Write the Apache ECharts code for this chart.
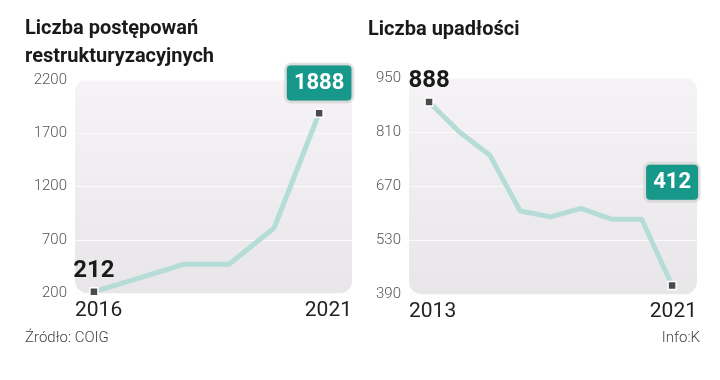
<!DOCTYPE html>
<html>
<head>
<meta charset="utf-8">
<script src="https://cdn.jsdelivr.net/npm/echarts@6/dist/echarts.min.js"></script>
<style>html,body{margin:0;padding:0;background:#fff}#c{width:720px;height:380px}</style>
</head>
<body>
<div id="c"></div>
<script>
// ---- data ----
const leftTitle = 'Liczba postępowań\nrestrukturyzacyjnych';
const leftYears = [2016, 2017, 2018, 2019, 2020, 2021];
const leftValues = [212, 340, 470, 470, 810, 1888];
const leftYTicks = [200, 700, 1200, 1700, 2200];

const rightTitle = 'Liczba upadłości';
const rightYears = [2013, 2014, 2015, 2016, 2017, 2018, 2019, 2020, 2021];
const rightValues = [888, 810, 750, 605, 590, 612, 584, 584, 412];
const rightYTicks = [390, 530, 670, 810, 950];

const sourceText = 'Źródło: COIG';
const infoText = 'Info:K';

// ---- layout / style ----
const FONT = 'Roboto, "Noto Sans", sans-serif';
const LINE_COLOR = '#b5dcd7';
const BOX_COLOR = '#16998b';
const W = 720, H = 380;
const gL = {left: 75, right: 368, top: 80, bottom: 87};
const gR = {left: 409, right: 23, top: 78, bottom: 86};
const leftXExt = [2015.58, 2021.73];
const rightXExt = [2012.34, 2021.82];

function xAxisFor(idx, ext, years) {
  return {
    type: 'value', gridIndex: idx, min: ext[0], max: ext[1], interval: ext[1] - ext[0],
    axisLine: {show: false}, axisTick: {show: false}, splitLine: {show: false},
    axisLabel: {
      showMinLabel: true, showMaxLabel: true, alignMinLabel: 'left', alignMaxLabel: 'right',
      margin: 7, fontFamily: FONT, fontSize: 21, color: '#222',
      formatter: v => (Math.abs(v - ext[0]) < 0.01 ? String(years[0]) : String(years[years.length - 1]))
    }
  };
}
function yAxisFor(idx, ticks) {
  return {
    type: 'value', gridIndex: idx, min: ticks[0], max: ticks[ticks.length - 1],
    interval: ticks[1] - ticks[0],
    axisLine: {show: false}, axisTick: {show: false},
    splitLine: {show: true, lineStyle: {color: '#fbfafb', width: 1}},
    axisLabel: {margin: 8, fontFamily: FONT, fontSize: 15, color: '#555', fontWeight: 300,
      formatter: v => String(v)}
  };
}
function seriesFor(idx, years, values, lastLabel) {
  const n = years.length;
  const data = years.map((y, i) => {
    const item = {value: [y, values[i]]};
    if (i === 0) {
      item.label = {show: true, position: 'top', distance: 4, fontFamily: FONT, fontWeight: 'bold',
        fontSize: 24, color: '#1a1a1a'};
    } else if (i === n - 1) {
      item.label = Object.assign({show: true, position: 'top', fontFamily: FONT, fontWeight: 'bold',
        fontSize: 22, color: '#fff', backgroundColor: BOX_COLOR, borderColor: '#e4e4e4', borderWidth: 2,
        borderRadius: 4, padding: [7, 7, 6, 7], shadowBlur: 2, shadowColor: 'rgba(0,0,0,0.25)'}, lastLabel);
    } else {
      item.symbol = 'none';
    }
    return item;
  });
  return {
    type: 'line', xAxisIndex: idx, yAxisIndex: idx, data: data,
    symbol: 'rect', symbolSize: 8, showSymbol: true,
    lineStyle: {color: LINE_COLOR, width: 5},
    itemStyle: {color: '#4a4a4a', borderColor: '#fff', borderWidth: 1.5},
    emphasis: {disabled: true}, animation: false, z: 3
  };
}
function bgRect(g) {
  const w = W - g.left - g.right, h = H - g.top - g.bottom;
  return {
    type: 'rect', z: -10, silent: true,
    shape: {x: g.left, y: g.top, width: w, height: h, r: 12},
    style: {fill: new echarts.graphic.LinearGradient(0, 0, 0, 1, [
      {offset: 0, color: '#f6f3f6'}, {offset: 1, color: '#e9e6ea'}])}
  };
}

const chart = echarts.init(document.getElementById('c'), null, {renderer: 'canvas'});
chart.setOption({
  animation: false,
  backgroundColor: '#fff',
  title: [
    {text: leftTitle, left: 25, top: 15, padding: 0, textStyle: {fontFamily: FONT, fontWeight: 'bold', fontSize: 20, color: '#1a1a1a', lineHeight: 28}},
    {text: rightTitle, left: 368, top: 16, padding: 0, textStyle: {fontFamily: FONT, fontWeight: 'bold', fontSize: 20, color: '#1a1a1a', lineHeight: 28}}
  ],
  grid: [
    Object.assign({containLabel: false}, gL),
    Object.assign({containLabel: false}, gR)
  ],
  xAxis: [xAxisFor(0, leftXExt, leftYears), xAxisFor(1, rightXExt, rightYears)],
  yAxis: [yAxisFor(0, leftYTicks), yAxisFor(1, rightYTicks)],
  series: [
    seriesFor(0, leftYears, leftValues, {distance: 8}),
    seriesFor(1, rightYears, rightValues, {distance: 81})
  ],
  graphic: [
    bgRect(gL), bgRect(gR),
    {type: 'text', left: 25, top: 331, style: {text: sourceText, font: '300 15px ' + FONT, fill: '#444'}},
    {type: 'text', right: 20, top: 331, style: {text: infoText, font: '300 15px ' + FONT, fill: '#444'}}
  ]
});
</script>
</body>
</html>
